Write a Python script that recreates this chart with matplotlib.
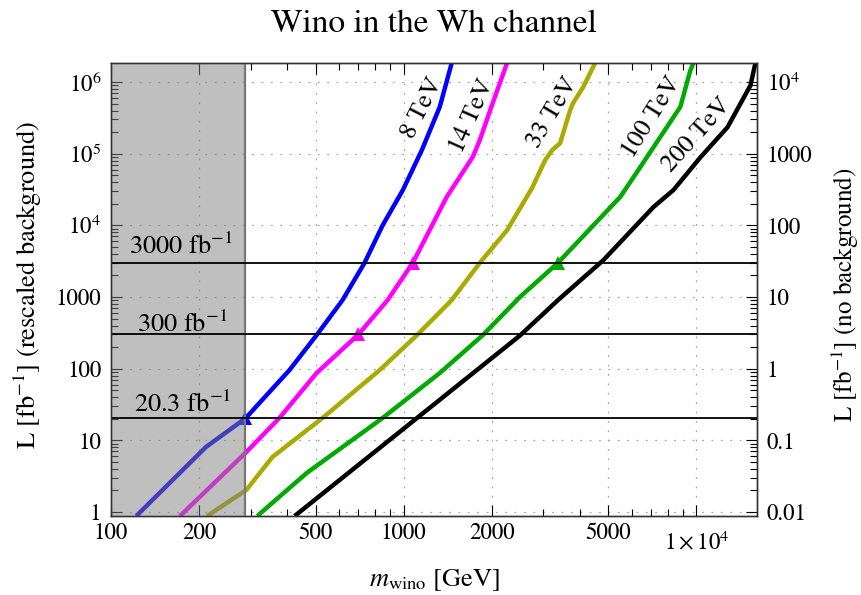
import numpy as np
import matplotlib
matplotlib.use("Agg")
import matplotlib.pyplot as plt
from matplotlib.ticker import FixedLocator, FixedFormatter, NullFormatter
from matplotlib.transforms import ScaledTranslation

plt.rcParams['font.family'] = ['STIXGeneral', 'DejaVu Serif']
plt.rcParams['mathtext.fontset'] = 'stix'

# ---- data ----
m8 = [122, 211, 288, 407, 504, 618, 735, 847, 993, 1153, 1328, 1459]
L8 = [0.88, 8.07, 20.3, 95.6, 294, 906, 3000, 1.0e4, 3.1e4, 1.12e5, 4.5e5, 1.85e6]

m14 = [172, 290, 376, 504, 700, 881, 1074, 1403, 1721, 1820, 1972, 2255]
L14 = [0.88, 6.87, 20.5, 87, 300, 906, 3000, 2.5e4, 9.0e4, 1.55e5, 4.0e5, 1.85e6]

m33 = [213, 290, 356, 528, 828, 1110, 1459, 1820, 2255, 2742, 3041, 3215, 3422, 3700, 3791, 4104, 4510]
L33 = [0.88, 2.03, 5.85, 20.5, 95.6, 294, 906, 3000, 8570, 3.3e4, 8.1e4, 1.12e5, 1.4e5, 4.0e5, 5.1e5, 8.5e5, 1.85e6]

m100 = [316, 466, 847, 1328, 1863, 2495, 3365, 5495, 6430, 8810, 9530, 9770]
L100 = [0.88, 3.5, 20.5, 87, 294, 1000, 3000, 2.5e4, 6.5e4, 4.5e5, 1.45e6, 1.85e6]

m200 = [424, 1110, 2495, 3365, 4810, 7130, 8340, 10320, 12770, 15300, 15900]
L200 = [0.88, 20.5, 290, 906, 3270, 1.8e4, 3.1e4, 8.9e4, 2.34e5, 9.0e5, 1.85e6]

lumis = [3000, 300, 20.3]
lumi_labels = [r'3000 fb$^{-1}$', r'300 fb$^{-1}$', r'20.3 fb$^{-1}$']

marker_m = [288, 700, 1074, 3365]
marker_L = [20.3, 300, 3000, 3000]
marker_c = ['#0000ff', '#ff00ff', '#ff00ff', '#00aa00']

excluded_mass = 288

series = [
    (m8, L8, '#0000ff', '8 TeV'),
    (m14, L14, '#ff00ff', '14 TeV'),
    (m33, L33, '#aaaa00', '33 TeV'),
    (m100, L100, '#00aa00', '100 TeV'),
    (m200, L200, '#000000', '200 TeV'),
]

xticks = [100, 200, 500, 1000, 2000, 5000, 10000]
xticklabels = ['100', '200', '500', '1000', '2000', '5000', r'$1\times10^4$']
yticks_left = [1, 10, 100, 1000, 1e4, 1e5, 1e6]
yticklabels_left = ['1', '10', '100', '1000', r'$10^4$', r'$10^5$', r'$10^6$']
yticks_right = [0.01, 0.1, 1, 10, 100, 1000, 1e4]
yticklabels_right = ['0.01', '0.1', '1', '10', '100', '1000', r'$10^4$']

TICK_FS = 16.5
LAB_FS = 19
CURVE_FS = 18.5

# ---- figure ----
W, H = 861, 595
fig = plt.figure(figsize=(W / 100, H / 100), dpi=100)
ax = fig.add_axes([111 / W, 1 - 516 / H, (757 - 111) / W, (516 - 63) / H])
ax.set_xscale('log')
ax.set_yscale('log')
xlim = (100, 16100)
ylim = (0.88, 1.84e6)
ax.set_xlim(*xlim)
ax.set_ylim(*ylim)

for m, L, c, lab in series:
    ax.plot(m, L, color=c, lw=3.2, zorder=2, solid_capstyle='butt')

for mm, ll, cc in zip(marker_m, marker_L, marker_c):
    ax.plot([mm], [ll], marker='^', color=cc, ms=10, zorder=2.5, markeredgewidth=0)

ax.axvspan(xlim[0], excluded_mass, color='#808080', alpha=0.5, zorder=3, lw=0)
ax.axvline(excluded_mass, color='#777777', lw=1.6, zorder=3.5)

for L in lumis:
    ax.axhline(L, color='black', lw=1.3, zorder=4)

ax.text(115, 4000, lumi_labels[0], fontsize=LAB_FS, va='baseline', ha='left', zorder=5)
ax.text(122.7, 330, lumi_labels[1], fontsize=LAB_FS, va='baseline', ha='left', zorder=5)
ax.text(120, 24.6, lumi_labels[2], fontsize=LAB_FS, va='baseline', ha='left', zorder=5)

# curve labels
ax.text(1160, 4.3e5, '8 TeV', rotation=63, fontsize=CURVE_FS, ha='center', va='center', zorder=5)
ax.text(1710, 3.4e5, '14 TeV', rotation=66, fontsize=CURVE_FS, ha='center', va='center', zorder=5)
ax.text(3236, 3.8e5, '33 TeV', rotation=59, fontsize=CURVE_FS, ha='center', va='center', zorder=5)
ax.text(7060, 3.2e5, '100 TeV', rotation=58, fontsize=CURVE_FS, ha='center', va='center', zorder=5)
ax.text(10000, 1.8e5, '200 TeV', rotation=48, fontsize=CURVE_FS, ha='center', va='center', zorder=5)

# grid
for xv in xticks[1:]:
    ax.axvline(xv, color='#aaaaaa', lw=0.9, ls=(0, (1.5, 6)), zorder=1)
for yv in yticks_left:
    ax.axhline(yv, color='#aaaaaa', lw=0.9, ls=(0, (1.5, 6)), zorder=1)

# ticks
minor_x = [v * d for d in [100, 1000] for v in range(2, 10) if v * d not in xticks]
ax.xaxis.set_major_locator(FixedLocator(xticks))
ax.xaxis.set_major_formatter(FixedFormatter(xticklabels))
ax.xaxis.set_minor_locator(FixedLocator([v for v in minor_x if v < xlim[1]]))
ax.xaxis.set_minor_formatter(NullFormatter())

minor_y = [v * 10.0 ** k for k in range(0, 7) for v in range(2, 10)]
ax.yaxis.set_major_locator(FixedLocator(yticks_left))
ax.yaxis.set_major_formatter(FixedFormatter(yticklabels_left))
ax.yaxis.set_minor_locator(FixedLocator([v for v in minor_y if v < ylim[1]]))
ax.yaxis.set_minor_formatter(NullFormatter())

ax.tick_params(which='both', direction='in', top=True, right=False, labelsize=TICK_FS, width=0.8)
ax.tick_params(which='major', length=8)
ax.tick_params(which='minor', length=5)
ax.tick_params(axis='x', pad=5)
ax.tick_params(axis='y', pad=7)

ax2 = ax.twinx()
ax2.set_yscale('log')
ax2.set_ylim(ylim[0] / 100, ylim[1] / 100)
ax2.yaxis.set_major_locator(FixedLocator(yticks_right))
ax2.yaxis.set_major_formatter(FixedFormatter(yticklabels_right))
ax2.yaxis.set_minor_locator(FixedLocator([v / 100 for v in minor_y if v < ylim[1]]))
ax2.yaxis.set_minor_formatter(NullFormatter())
ax2.tick_params(which='both', direction='in', labelsize=TICK_FS, width=0.8, pad=7)
ax2.tick_params(which='major', length=8)
ax2.tick_params(which='minor', length=5)

for a in (ax, ax2):
    for s in a.spines.values():
        s.set_linewidth(1.0)
        s.set_color('#333333')

# shift the 1x10^4 label down like the reference
labs = ax.get_xticklabels()
labs[-1].set_transform(labs[-1].get_transform() + ScaledTranslation(0, -6 / 72, fig.dpi_scale_trans))

fig.text(434 / W, 1 - 580 / H, r'$m_{\rm wino}$ [GeV]', fontsize=LAB_FS, ha='center', va='center')
fig.text(28 / W, 1 - 285 / H, r'L [fb$^{-1}$] (rescaled background)', fontsize=LAB_FS,
         rotation=90, ha='center', va='center')
fig.text(845 / W, 1 - 295 / H, r'L [fb$^{-1}$] (no background)', fontsize=18,
         rotation=90, ha='center', va='center')
fig.text(434 / W, 1 - 32 / H, 'Wino in the Wh channel', fontsize=24, ha='center', va='baseline')

fig.savefig('out.png', dpi=100)
